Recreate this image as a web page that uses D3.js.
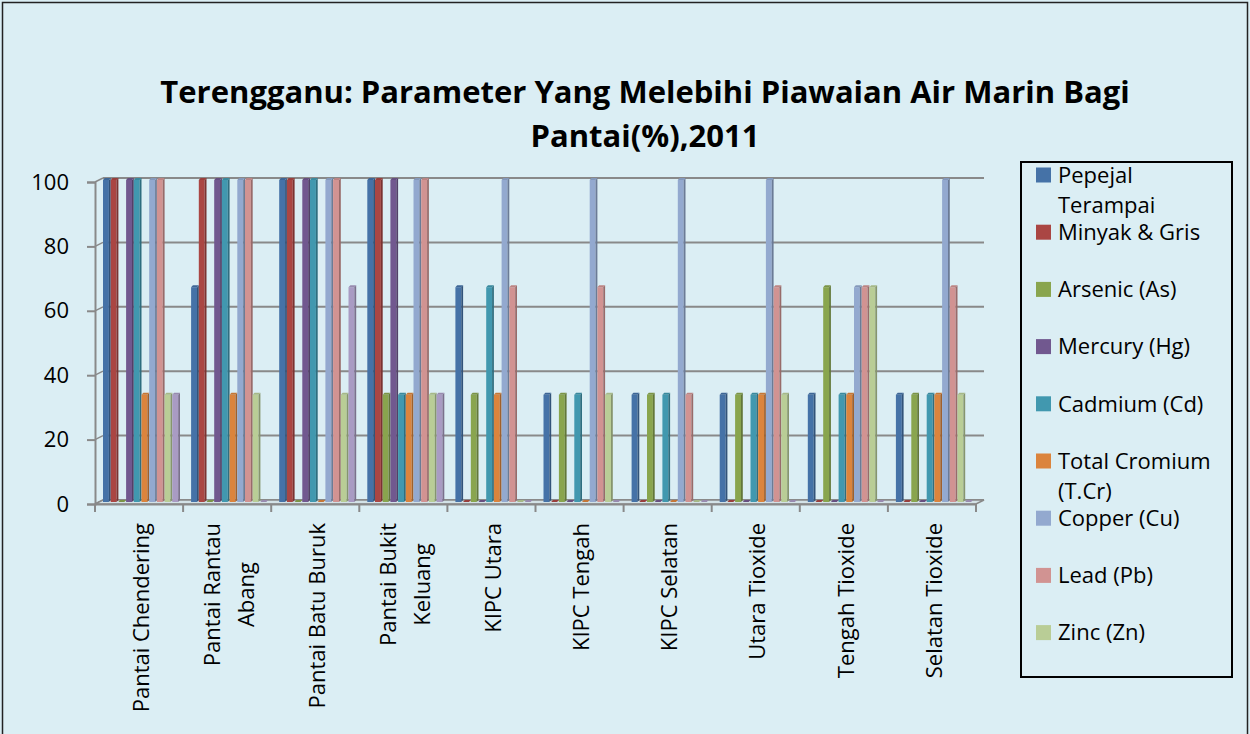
<!DOCTYPE html>
<html>
<head>
<meta charset="utf-8">
<script src="https://cdn.jsdelivr.net/npm/d3@7/dist/d3.min.js"></script>
<style>
body { margin: 0; background: #fff; }
svg text { font-family: "Open Sans", sans-serif; fill: #000; }
</style>
</head>
<body>
<div id="chart"></div>
<script>
var titleLines = ["Terengganu: Parameter Yang Melebihi Piawaian Air Marin Bagi", "Pantai(%),2011"]

var categories = ["Pantai Chendering", "Pantai Rantau Abang", "Pantai Batu Buruk", "Pantai Bukit Keluang",
	"KIPC Utara", "KIPC Tengah", "KIPC Selatan", "Utara Tioxide", "Tengah Tioxide", "Selatan Tioxide"]

// the 10th series has no entry in the legend of the original (legend is cut at 9)
var seriesNames = ["Pepejal Terampai", "Minyak & Gris", "Arsenic (As)", "Mercury (Hg)", "Cadmium (Cd)",
	"Total Cromium (T.Cr)", "Copper (Cu)", "Lead (Pb)", "Zinc (Zn)", "Siri 10"]

var pepejal  = [100, 66.7, 100, 100, 66.7, 33.3, 33.3, 33.3, 33.3, 33.3]
var minyak   = [100, 100, 100, 100, 0, 0, 0, 0, 0, 0]
var arsenic  = [0, 0, 0, 33.3, 33.3, 33.3, 33.3, 33.3, 66.7, 33.3]
var mercury  = [100, 100, 100, 100, 0, 0, 0, 0, 0, 0]
var cadmium  = [100, 100, 100, 33.3, 66.7, 33.3, 33.3, 33.3, 33.3, 33.3]
var cromium  = [33.3, 33.3, 0, 33.3, 33.3, 0, 0, 33.3, 33.3, 33.3]
var copper   = [100, 100, 100, 100, 100, 100, 100, 100, 66.7, 100]
var lead     = [100, 100, 100, 100, 66.7, 66.7, 33.3, 66.7, 66.7, 66.7]
var zinc     = [33.3, 33.3, 33.3, 33.3, 0, 33.3, 0, 33.3, 66.7, 33.3]
var siri10   = [33.3, 0, 66.7, 33.3, 0, 0, 0, 0, 0, 0]

var yTicks = [0, 20, 40, 60, 80, 100]
var legendCount = 9

var seriesValues = [pepejal, minyak, arsenic, mercury, cadmium, cromium, copper, lead, zinc, siri10]
var colors = ["#4572A7", "#AA4643", "#89A54E", "#71588F", "#4198AF", "#DB843D", "#93A9CF", "#D19392", "#B9CD96", "#A99BC3"]

var width = 1250, height = 734
var depthX = 8, depthY = -4
var axisColor = "#898989"

var svg = d3.select("#chart").append("svg")
	.attr("width", width)
	.attr("height", height)

svg.append("rect").attr("width", width).attr("height", height).attr("fill", "#DBEEF4")
svg.append("rect").attr("x", 2.5).attr("y", 2.5).attr("width", width - 5).attr("height", height + 10)
	.attr("fill", "none").attr("stroke", "#222").attr("stroke-width", 1.5)

// title
svg.selectAll(".title").data(titleLines).enter().append("text")
	.attr("class", "title")
	.attr("x", 645)
	.attr("y", function(d, i){ return 103 + i * 44 })
	.attr("text-anchor", "middle")
	.attr("font-size", 31)
	.attr("font-weight", "bold")
	.text(function(d){ return d })

var x0 = d3.scaleBand().domain(categories).range([95, 976])
var y = d3.scaleLinear().domain([0, 100]).range([504, 182])

var plot = svg.append("g")

// back wall gridlines
plot.selectAll(".grid").data(yTicks).enter().append("line")
	.attr("x1", 95 + depthX).attr("x2", 976 + depthX)
	.attr("y1", function(d){ return y(d) + depthY }).attr("y2", function(d){ return y(d) + depthY })
	.attr("stroke", axisColor).attr("stroke-width", 2)

// diagonal joins on left wall
plot.selectAll(".join").data(yTicks).enter().append("line")
	.attr("x1", 95).attr("x2", 95 + depthX)
	.attr("y1", function(d){ return y(d) }).attr("y2", function(d){ return y(d) + depthY })
	.attr("stroke", axisColor).attr("stroke-width", 1.5)

// floor
plot.append("path")
	.attr("d", "M95," + y(0) + "L976," + y(0) + "L" + (976 + depthX) + "," + (y(0) + depthY) + "L" + (95 + depthX) + "," + (y(0) + depthY) + "Z")
	.attr("fill", "#D3E2E7").attr("stroke", axisColor).attr("stroke-width", 1.5)

// y axis
var yAxis = d3.axisLeft(y).tickValues(yTicks).tickSize(8).tickPadding(18)
var gy = plot.append("g").attr("transform", "translate(95,0)").call(yAxis)
gy.select(".domain").attr("stroke", axisColor).attr("stroke-width", 2)
gy.selectAll(".tick line").attr("stroke", axisColor).attr("stroke-width", 2)
gy.selectAll(".tick text").attr("font-size", 22).attr("font-family", "Open Sans").attr("fill", "#000")

// x axis
var xAxis = d3.axisBottom(x0).tickSize(0).tickFormat("")
var gx = plot.append("g").attr("transform", "translate(0," + y(0) + ")").call(xAxis)
gx.select(".domain").attr("stroke", axisColor).attr("stroke-width", 2)
var xTickPos = categories.map(function(c){ return x0(c) }).concat([976])
gx.selectAll(".cattick").data(xTickPos).enter().append("line")
	.attr("x1", function(d){ return d }).attr("x2", function(d){ return d })
	.attr("y1", 0).attr("y2", 8)
	.attr("stroke", axisColor).attr("stroke-width", 2)

// bars
var x1 = d3.scaleBand().domain(d3.range(seriesValues.length)).range([8, 85])
var side = 1.8, bw = x1.bandwidth()

var barData = []
categories.forEach(function(c, ci){
	seriesValues.forEach(function(vals, si){
		barData.push({cat: c, s: si, v: vals[ci]})
	})
})

var bars = plot.selectAll(".bar").data(barData).enter().append("g").attr("class", "bar")
	.attr("transform", function(d){ return "translate(" + (x0(d.cat) + x1(d.s)) + ",-2)" })

bars.append("rect")
	.attr("x", 0)
	.attr("y", function(d){ return y(d.v) })
	.attr("width", bw - side)
	.attr("height", function(d){ return y(0) - y(d.v) })
	.attr("fill", function(d){ return colors[d.s] })

bars.append("path")
	.attr("d", function(d){
		var t = y(d.v), b = y(0)
		return "M" + (bw - side) + "," + t + "L" + bw + "," + (t - 2) + "L" + bw + "," + (b - 2) + "L" + (bw - side) + "," + b + "Z"
	})
	.attr("fill", function(d){ return d3.color(colors[d.s]).darker(0.9) })

bars.append("path")
	.attr("d", function(d){
		var t = y(d.v)
		return "M0," + t + "L" + side + "," + (t - 2) + "L" + bw + "," + (t - 2) + "L" + (bw - side) + "," + t + "Z"
	})
	.attr("fill", function(d){ return d3.color(colors[d.s]).darker(0.3) })

// category labels, rotated, wrapped
function wrapWords(text, maxW, fontSize){
	var tmp = svg.append("text").attr("font-size", fontSize)
	var words = text.split(" "), lines = [], cur = ""
	words.forEach(function(w){
		var test = cur ? cur + " " + w : w
		tmp.text(test)
		if (tmp.node().getComputedTextLength() > maxW && cur) { lines.push(cur); cur = w }
		else cur = test
	})
	lines.push(cur)
	tmp.remove()
	return lines
}

function measure(text, fontSize){
	var tmp = svg.append("text").attr("font-size", fontSize).text(text)
	var w = tmp.node().getComputedTextLength()
	tmp.remove()
	return w
}

categories.forEach(function(c){
	var lines = wrapWords(c, 205, 22)
	var blockLen = d3.max(lines, function(l){ return measure(l, 22) })
	var cx = x0(c) + x0.bandwidth() / 2 + 2
	var g = svg.append("g").attr("transform", "translate(" + cx + ",523) rotate(-90)")
	g.selectAll("text").data(lines).enter().append("text")
		.attr("x", -blockLen / 2)
		.attr("y", function(d, i){ return (i - (lines.length - 1) / 2) * 34 })
		.attr("dy", "0.35em")
		.attr("text-anchor", "middle")
		.attr("font-size", 22)
		.text(function(d){ return d })
})

// legend
var legend = svg.append("g")
legend.append("rect")
	.attr("x", 1021).attr("y", 162).attr("width", 211).attr("height", 515)
	.attr("fill", "none").attr("stroke", "#000").attr("stroke-width", 2)

var items = legend.selectAll(".item").data(seriesNames.slice(0, legendCount)).enter().append("g")
	.attr("class", "item")
	.attr("transform", function(d, i){ return "translate(1036," + (175 + i * 57.2) + ")" })

items.append("rect")
	.attr("x", 0).attr("y", -7.5).attr("width", 15).attr("height", 15)
	.attr("fill", function(d, i){ return colors[i] })

items.each(function(d){
	var lines = wrapWords(d, 165, 22)
	d3.select(this).selectAll("text").data(lines).enter().append("text")
		.attr("x", 22)
		.attr("y", function(l, j){ return j * 30 })
		.attr("dy", "0.35em")
		.attr("font-size", 22)
		.text(function(l){ return l })
})
</script>
</body>
</html>
